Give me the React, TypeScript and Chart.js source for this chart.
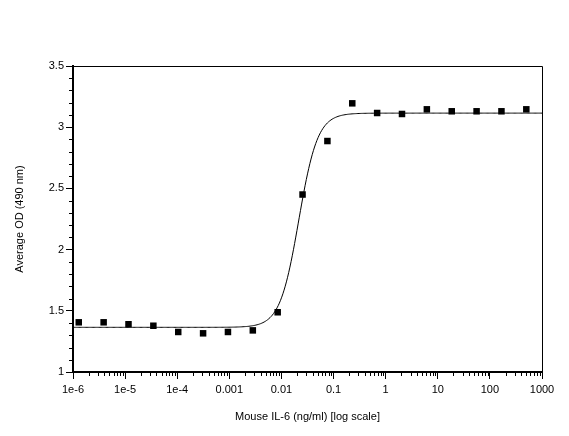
import React, { useEffect, useRef } from "react";
import { Chart, registerables } from "chart.js";

Chart.register(...registerables);

// Concentrations (ng/ml), 3-fold dilution series, ascending
const concentrations = [
  1.2906e-6, 3.8717e-6, 1.1615e-5, 3.4846e-5, 1.0454e-4, 3.1361e-4, 9.4084e-4,
  0.0028225, 0.0084675, 0.025403, 0.076208, 0.22862, 0.68587, 2.0576, 6.1728,
  18.519, 55.556, 166.667, 500,
];
// Average OD (490 nm)
const averageOD = [
  1.406, 1.406, 1.39, 1.378, 1.327, 1.316, 1.327, 1.34, 1.488, 2.45, 2.887,
  3.195, 3.116, 3.108, 3.146, 3.13, 3.13, 3.13, 3.146,
];

// 4PL fit parameters of the drawn curve
const fitBottom = 1.365;
const fitTop = 3.115;
const fitEC50 = 0.0215;
const fitHill = 2.4;

const xTickValues = [1e-6, 1e-5, 1e-4, 1e-3, 1e-2, 1e-1, 1, 10, 100, 1000];
const xTickLabels = ["1e-6", "1e-5", "1e-4", "0.001", "0.01", "0.1", "1", "10", "100", "1000"];
const yTickValues = [1, 1.5, 2, 2.5, 3, 3.5];
const yTickLabels = ["1", "1.5", "2", "2.5", "3", "3.5"];

const FONT = "'Liberation Sans', Arial, sans-serif";

function fourPL(x: number) {
  return fitBottom + (fitTop - fitBottom) / (1 + Math.pow(fitEC50 / x, fitHill));
}

const minorTicks = {
  id: "minorTicks",
  afterDraw(chart: any) {
    const ctx = chart.ctx;
    const { left, right, top, bottom } = chart.chartArea;
    const xs = chart.scales.x;
    const ys = chart.scales.y;
    ctx.save();
    ctx.strokeStyle = "#000";
    ctx.lineWidth = 1;
    // box top/right
    ctx.beginPath();
    ctx.moveTo(left, top + 0.5);
    ctx.lineTo(Math.round(right) + 0.5, top + 0.5);
    ctx.lineTo(Math.round(right) + 0.5, bottom);
    ctx.stroke();
    // x minor ticks
    ctx.beginPath();
    for (let d = 0; d < xTickValues.length - 1; d++) {
      for (let m = 2; m <= 9; m++) {
        const v = xTickValues[d] * m;
        const px = Math.round(xs.getPixelForValue(v)) + 0.5;
        ctx.moveTo(px, bottom);
        ctx.lineTo(px, bottom + 4);
      }
    }
    // y minor ticks
    for (let i = 0; i < yTickValues.length - 1; i++) {
      for (let k = 1; k <= 4; k++) {
        const v = yTickValues[i] + k * 0.1;
        const py = Math.round(ys.getPixelForValue(v)) + 0.5;
        ctx.moveTo(left, py);
        ctx.lineTo(left - 4, py);
      }
    }
    ctx.stroke();
    ctx.restore();
  },
};

export default function App() {
  const ref = useRef<HTMLCanvasElement>(null);
  useEffect(() => {
    document.body.style.margin = "0";
    const curve: { x: number; y: number }[] = [];
    const n = 400;
    for (let i = 0; i <= n; i++) {
      const lx = -6 + (9 * i) / n;
      const x = Math.pow(10, lx);
      curve.push({ x, y: fourPL(x) });
    }
    const chart = new Chart(ref.current!, {
      type: "scatter",
      data: {
        datasets: [
          {
            data: concentrations.map((c, i) => ({ x: c, y: averageOD[i] })),
            pointStyle: "rect",
            pointRadius: 4.6,
            borderWidth: 0,
            backgroundColor: "#000",
            borderColor: "#000",
            showLine: false,
          },
          {
            data: curve,
            showLine: true,
            pointRadius: 0,
            borderWidth: 1,
            borderColor: "#000",
            backgroundColor: "#000",
            tension: 0,
          },
        ],
      },
      options: {
        animation: false,
        responsive: false,
        maintainAspectRatio: false,
        layout: { padding: { left: 0, top: 66, right: 27, bottom: 0 } },
        plugins: { legend: { display: false }, tooltip: { enabled: false } },
        scales: {
          x: {
            type: "logarithmic",
            min: 1e-6,
            max: 1000,
            afterBuildTicks: (s: any) => {
              s.ticks = xTickValues.map((v) => ({ value: v }));
            },
            afterFit: (s: any) => {
              s.height = 64;
            },
            ticks: {
              autoSkip: false,
              maxRotation: 0,
              padding: 4,
              color: "#000",
              font: { family: FONT, size: 11 },
              callback: (v: any) => {
                const i = xTickValues.findIndex((t) => Math.abs(Math.log10(t) - Math.log10(v)) < 1e-6);
                return i >= 0 ? xTickLabels[i] : "";
              },
            },
            grid: { display: true, drawOnChartArea: false, drawTicks: true, tickLength: 7, color: "#000" },
            border: { display: true, color: "#000", width: 2 },
            title: {
              display: true,
              text: "Mouse IL-6 (ng/ml) [log scale]",
              color: "#000",
              font: { family: FONT, size: 11 },
              padding: { top: 0, bottom: 12 },
            },
          },
          y: {
            type: "linear",
            min: 1,
            max: 3.5,
            afterBuildTicks: (s: any) => {
              s.ticks = yTickValues.map((v) => ({ value: v }));
            },
            afterFit: (s: any) => {
              s.width = 73;
            },
            ticks: {
              padding: 2,
              color: "#000",
              font: { family: FONT, size: 11 },
              callback: (v: any) => {
                const i = yTickValues.findIndex((t) => Math.abs(t - v) < 1e-9);
                return i >= 0 ? yTickLabels[i] : "";
              },
            },
            grid: { display: true, drawOnChartArea: false, drawTicks: true, tickLength: 7, color: "#000" },
            border: { display: true, color: "#000", width: 2 },
            title: {
              display: true,
              text: "Average OD (490 nm)",
              color: "#000",
              font: { family: FONT, size: 11 },
              padding: { top: 13, bottom: 0 },
            },
          },
        },
      },
      plugins: [minorTicks],
    });
    return () => chart.destroy();
  }, []);
  return (
    <div style={{ width: 569, height: 436, background: "#fff" }}>
      <canvas ref={ref} width={569} height={436} style={{ display: "block" }} />
    </div>
  );
}
